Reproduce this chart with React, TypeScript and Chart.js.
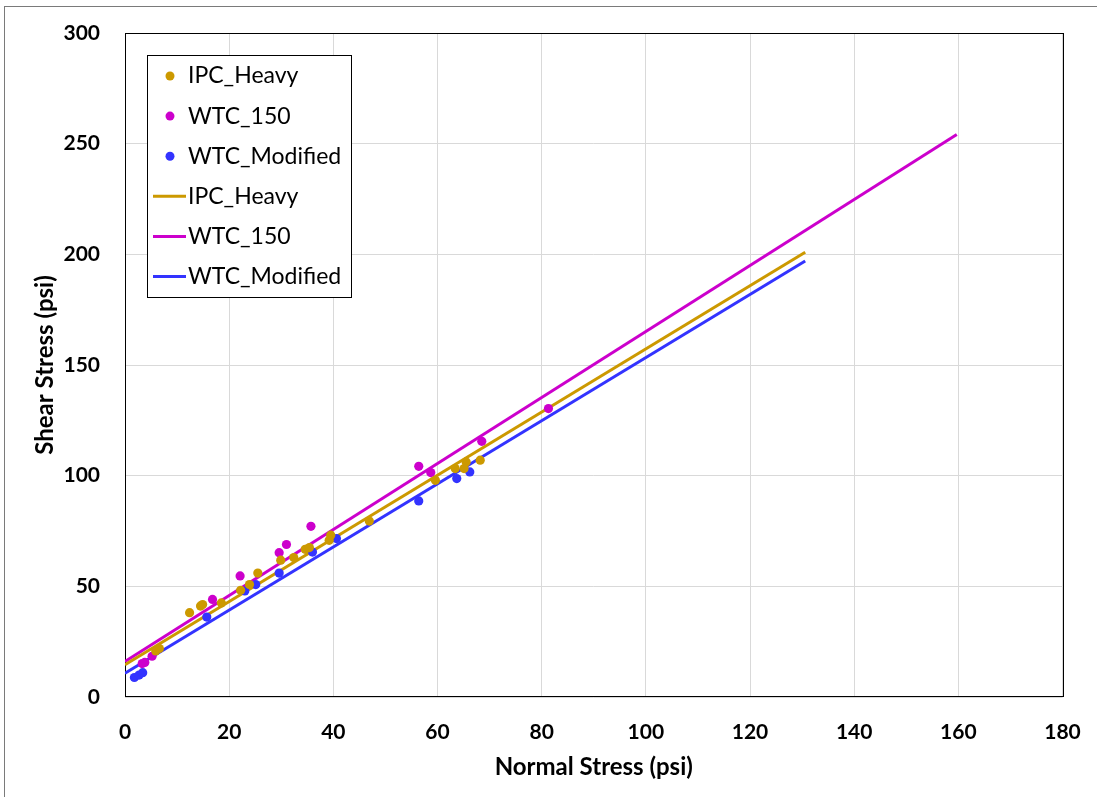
import React, { useEffect, useRef } from "react";
import { Chart, registerables } from "chart.js";

Chart.register(...registerables);

// ---- Data ----
const ipcHeavyNormal = [5.9, 6.6, 12.4, 14.5, 14.9, 18.5, 22.2, 23.9, 25.5, 29.9, 32.4, 34.6, 35.4, 39.2, 39.5, 46.9, 59.6, 63.4, 65.1, 65.5, 68.2];
const ipcHeavyShear = [20.8, 21.9, 38.1, 41.1, 41.8, 42.5, 48.2, 50.8, 56.0, 61.8, 63.0, 66.7, 67.5, 70.8, 73.1, 79.5, 97.9, 103.2, 103.2, 106.2, 107.0];

const wtc150Normal = [3.3, 3.8, 5.2, 16.8, 22.1, 29.6, 31.0, 35.7, 56.4, 58.7, 68.5, 81.3];
const wtc150Shear = [15.1, 15.6, 18.4, 44.1, 54.7, 65.2, 68.9, 77.1, 104.2, 101.4, 115.5, 130.3];

const wtcModNormal = [1.8, 2.7, 3.4, 15.7, 23.0, 25.1, 29.6, 36.0, 40.6, 56.4, 63.7, 66.2];
const wtcModShear = [8.8, 9.9, 11.0, 36.1, 47.9, 50.8, 56.0, 65.5, 71.6, 88.6, 98.7, 101.7];

// Fitted lines (end points)
const ipcFitNormal = [0, 130.6];
const ipcFitShear = [14.6, 200.9];
const wtc150FitNormal = [0, 159.7];
const wtc150FitShear = [16.0, 254.1];
const wtcModFitNormal = [0, 130.6];
const wtcModFitShear = [10.7, 197.0];

const seriesLabels = ["IPC_Heavy", "WTC_150", "WTC_Modified"];
const seriesColors = ["#CC9900", "#CC00CC", "#3333FF"];

const xTitle = "Normal Stress (psi)";
const yTitle = "Shear Stress (psi)";

const toPoints = (xs: number[], ys: number[]) => xs.map((x, i) => ({ x, y: ys[i] }));

const FONT = "Lato";

const framePlugin = {
  id: "frameAndBorder",
  beforeDraw(chart: any) {
    const ctx = chart.ctx;
    ctx.save();
    ctx.fillStyle = "#ffffff";
    ctx.fillRect(0, 0, chart.width, chart.height);
    ctx.strokeStyle = "#7a7a7a";
    ctx.lineWidth = 1;
    ctx.strokeRect(4.5, 6.5, chart.width + 10, chart.height + 10);
    ctx.restore();
  },
  beforeDatasetsDraw(chart: any) {
    const { ctx, chartArea } = chart;
    ctx.save();
    ctx.strokeStyle = "#000000";
    ctx.lineWidth = 1;
    ctx.strokeRect(
      Math.round(chartArea.left) + 0.5,
      Math.round(chartArea.top) + 0.5,
      Math.round(chartArea.right - chartArea.left),
      Math.round(chartArea.bottom - chartArea.top) - 1
    );
    ctx.restore();
  },
};

const boxLegendPlugin = {
  id: "boxLegend",
  afterDraw(chart: any) {
    const ctx = chart.ctx;
    const x0 = 147.5;
    const y0 = 55.5;
    const w = 204;
    const h = 242;
    ctx.save();
    ctx.fillStyle = "#ffffff";
    ctx.fillRect(x0, y0, w, h);
    ctx.strokeStyle = "#000000";
    ctx.lineWidth = 1;
    ctx.strokeRect(x0, y0, w, h);
    ctx.font = `23px ${FONT}`;
    ctx.textBaseline = "middle";
    ctx.textAlign = "left";
    chart.data.datasets.forEach((ds: any, i: number) => {
      const cy = 76 + i * 40.1;
      if (ds.showLine) {
        ctx.strokeStyle = ds.borderColor;
        ctx.lineWidth = 3;
        ctx.beginPath();
        ctx.moveTo(153, cy);
        ctx.lineTo(186, cy);
        ctx.stroke();
      } else {
        ctx.fillStyle = ds.backgroundColor;
        ctx.beginPath();
        ctx.arc(170, cy, 4.5, 0, Math.PI * 2);
        ctx.fill();
      }
      ctx.fillStyle = "#000000";
      ctx.fillText(ds.label, 188, cy);
    });
    ctx.restore();
  },
};

export default function App() {
  const canvasRef = useRef<HTMLCanvasElement | null>(null);

  useEffect(() => {
    document.body.style.margin = "0";
    const canvas = canvasRef.current;
    if (!canvas) return;

    const scatterSets = [
      toPoints(ipcHeavyNormal, ipcHeavyShear),
      toPoints(wtc150Normal, wtc150Shear),
      toPoints(wtcModNormal, wtcModShear),
    ].map((data, i) => ({
      label: seriesLabels[i],
      data,
      showLine: false,
      backgroundColor: seriesColors[i],
      borderColor: seriesColors[i],
      pointRadius: 4.6,
      pointBorderWidth: 0,
      pointHoverRadius: 4.6,
    }));

    const lineSets = [
      toPoints(ipcFitNormal, ipcFitShear),
      toPoints(wtc150FitNormal, wtc150FitShear),
      toPoints(wtcModFitNormal, wtcModFitShear),
    ].map((data, i) => ({
      label: seriesLabels[i],
      data,
      showLine: true,
      borderColor: seriesColors[i],
      backgroundColor: seriesColors[i],
      borderWidth: 3,
      pointRadius: 0,
      pointHoverRadius: 0,
      fill: false,
    }));

    const tickFont = { family: FONT, size: 21, weight: "bold" as const };
    const titleFont = { family: FONT, size: 24, weight: "bold" as const };

    const zeroPad = (s: any) => {
      s.paddingLeft = 0;
      s.paddingRight = 0;
      s.paddingTop = 0;
      s.paddingBottom = 0;
    };

    const chart = new Chart(canvas, {
      type: "scatter",
      data: { datasets: [...scatterSets, ...lineSets] as any },
      options: {
        responsive: false,
        animation: false,
        devicePixelRatio: 1,
        layout: { padding: { left: 0, top: 33, right: 34.5, bottom: 0 } },
        plugins: {
          legend: { display: false },
          tooltip: { enabled: false },
        },
        scales: {
          x: {
            type: "linear",
            min: 0,
            max: 180,
            ticks: { stepSize: 20, font: tickFont, color: "#000000", padding: 23 },
            grid: { color: "#d9d9d9", lineWidth: 1, drawTicks: false },
            border: { display: false },
            title: {
              display: true,
              text: xTitle,
              font: titleFont,
              color: "#000000",
              padding: { top: 0, bottom: 15.5 },
            },
            afterFit: (s: any) => {
              s.height = 100;
              zeroPad(s);
            },
          },
          y: {
            type: "linear",
            min: 0,
            max: 300,
            ticks: { stepSize: 50, font: tickFont, color: "#000000", padding: 25 },
            grid: { color: "#d9d9d9", lineWidth: 1, drawTicks: false },
            border: { display: false },
            title: {
              display: true,
              text: yTitle,
              font: titleFont,
              color: "#000000",
              padding: { top: 30.5, bottom: 0 },
            },
            afterFit: (s: any) => {
              s.width = 125;
              zeroPad(s);
            },
          },
        },
      },
      plugins: [framePlugin, boxLegendPlugin],
    });

    return () => {
      chart.destroy();
    };
  }, []);

  return (
    <div style={{ position: "absolute", left: 0, top: 0, width: 1097, height: 797 }}>
      <canvas ref={canvasRef} width={1097} height={797} style={{ width: 1097, height: 797 }} />
    </div>
  );
}
